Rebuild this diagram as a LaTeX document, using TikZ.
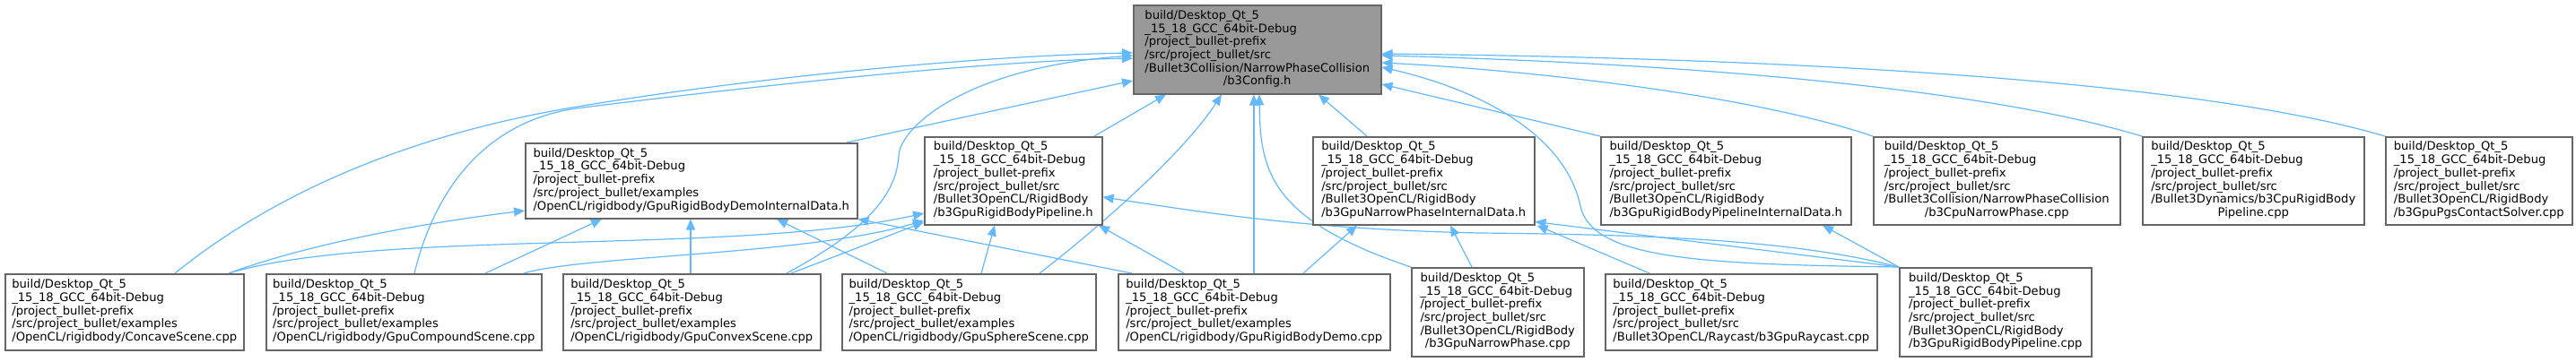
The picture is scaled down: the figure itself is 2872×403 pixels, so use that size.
\documentclass[tikz,border=0pt]{standalone}
\usepackage{fontspec}
\setmainfont{DejaVu Sans}
\usetikzlibrary{arrows.meta,calc,backgrounds}
\definecolor{edgeblue}{HTML}{63B8FF}
\definecolor{nodeborder}{HTML}{666666}
\definecolor{rootfill}{HTML}{999999}
\newcommand{\dlab}[2]{\begin{tabular}{@{}l@{}}#1\\\multicolumn{1}{@{}c@{}}{#2}\end{tabular}}
\newcommand{\pfx}{build/Desktop\_Qt\_5\\\_15\_18\_GCC\_64bit-Debug\\/project\_bullet-prefix}
\begin{document}
\begin{tikzpicture}[x=0.5pt,y=-0.5pt,
  box/.style={draw=nodeborder,line width=0.75pt,fill=white,anchor=north west,inner sep=0pt,
    font=\fontsize{6.55pt}{7.35pt}\selectfont},
  e/.style={draw=edgeblue,line width=0.6pt,-{Triangle[length=6pt,width=5pt]}}]
\useasboundingbox (0,0) rectangle (2872,403);
% rank 0
\node[box,fill=rootfill,minimum width=138pt,minimum height=49.5pt] (root) at (1263,5)
  {\dlab{\pfx\\/src/project\_bullet/src\\/Bullet3Collision/NarrowPhaseCollision}{/b3Config.h}};
% rank 1
\node[box,minimum width=185pt,minimum height=42pt] (demoint) at (585,159)
  {\dlab{\pfx\\/src/project\_bullet/examples}{/OpenCL/rigidbody/GpuRigidBodyDemoInternalData.h}};
\node[box,minimum width=99pt,minimum height=49pt] (pipeh) at (1030,152)
  {\dlab{\pfx\\/src/project\_bullet/src\\/Bullet3OpenCL/RigidBody}{/b3GpuRigidBodyPipeline.h}};
\node[box,minimum width=123.5pt,minimum height=49pt] (npint) at (1463,152)
  {\dlab{\pfx\\/src/project\_bullet/src\\/Bullet3OpenCL/RigidBody}{/b3GpuNarrowPhaseInternalData.h}};
\node[box,minimum width=139.5pt,minimum height=49pt] (pipeint) at (1784,152)
  {\dlab{\pfx\\/src/project\_bullet/src\\/Bullet3OpenCL/RigidBody}{/b3GpuRigidBodyPipelineInternalData.h}};
\node[box,minimum width=137.5pt,minimum height=49pt] (cpunp) at (2088,152)
  {\dlab{\pfx\\/src/project\_bullet/src\\/Bullet3Collision/NarrowPhaseCollision}{/b3CpuNarrowPhase.cpp}};
\node[box,minimum width=123.5pt,minimum height=49pt] (cpurbp) at (2388,152)
  {\dlab{\pfx\\/src/project\_bullet/src\\/Bullet3Dynamics/b3CpuRigidBody}{Pipeline.cpp}};
\node[box,minimum width=104pt,minimum height=49pt] (pgs) at (2659,152)
  {\dlab{\pfx\\/src/project\_bullet/src\\/Bullet3OpenCL/RigidBody}{/b3GpuPgsContactSolver.cpp}};
% rank 2
\node[box,minimum width=133pt,minimum height=42.5pt] (concave) at (5,305)
  {\dlab{\pfx\\/src/project\_bullet/examples}{/OpenCL/rigidbody/ConcaveScene.cpp}};
\node[box,minimum width=153.5pt,minimum height=42.5pt] (compound) at (296,305)
  {\dlab{\pfx\\/src/project\_bullet/examples}{/OpenCL/rigidbody/GpuCompoundScene.cpp}};
\node[box,minimum width=143.5pt,minimum height=42.5pt] (convex) at (627,305)
  {\dlab{\pfx\\/src/project\_bullet/examples}{/OpenCL/rigidbody/GpuConvexScene.cpp}};
\node[box,minimum width=141.5pt,minimum height=42.5pt] (sphere) at (938,305)
  {\dlab{\pfx\\/src/project\_bullet/examples}{/OpenCL/rigidbody/GpuSphereScene.cpp}};
\node[box,minimum width=151.5pt,minimum height=42.5pt] (demo) at (1246,305)
  {\dlab{\pfx\\/src/project\_bullet/examples}{/OpenCL/rigidbody/GpuRigidBodyDemo.cpp}};
\node[box,minimum width=96pt,minimum height=49.5pt] (gpunp) at (1573,298)
  {\dlab{\pfx\\/src/project\_bullet/src\\/Bullet3OpenCL/RigidBody}{/b3GpuNarrowPhase.cpp}};
\node[box,minimum width=151.5pt,minimum height=42.5pt] (raycast) at (1789,305)
  {\dlab{\pfx\\/src/project\_bullet/src}{/Bullet3OpenCL/Raycast/b3GpuRaycast.cpp}};
\node[box,minimum width=107pt,minimum height=49.5pt] (gpurbp) at (2117,298)
  {\dlab{\pfx\\/src/project\_bullet/src\\/Bullet3OpenCL/RigidBody}{/b3GpuRigidBodyPipeline.cpp}};
\begin{pgfonlayer}{background}
% edges to root
\draw[e] ($(concave.north west)+(190,0)$) .. controls (300,220) and (450,150) .. (650,118) .. controls (850,85) and (1100,62) .. ($(root.north west)+(0,54)$);
\draw[e] ($(compound.north west)+(166,0)$) .. controls (490,190) and (560,130) .. (650,120) .. controls (850,95) and (1100,68) .. ($(root.north west)+(0,60)$);
\draw[e] ($(convex.north west)+(250,0)$) .. controls (960,260) and (1000,220) .. (1002,173) .. controls (1005,140) and (1080,75) .. ($(root.north west)+(0,57)$);
\draw[e] ($(demoint.north west)+(359,0)$) -- ($(root.north west)+(0,85)$);
\draw[e] ($(pipeh.north west)+(190,0)$) -- ($(root.south west)+(37,0)$);
\draw[e] ($(npint.north west)+(61,0)$) -- ($(root.south west)+(207,0)$);
\draw[e] (pipeint.north west) -- ($(root.north east)+(0,89)$);
\draw[e] (cpunp.north west) .. controls (1950,105) and (1700,78) .. ($(root.north east)+(0,65)$);
\draw[e] (cpurbp.north west) .. controls (2200,95) and (1850,70) .. ($(root.north east)+(0,57)$);
\draw[e] (pgs.north west) .. controls (2450,90) and (2000,65) .. ($(root.north east)+(0,55)$);
\draw[e] ($(sphere.north west)+(221,0)$) .. controls (1230,250) and (1320,170) .. ($(root.south west)+(99,0)$);
\draw[e] ($(demo.north west)+(152,0)$) -- ($(root.south west)+(135,0)$);
\draw[e] (gpunp.north west) .. controls (1415,245) and (1405,190) .. ($(root.south west)+(141,0)$);
\draw[e] (gpurbp.north west) .. controls (1900,295) and (1775,290) .. (1762,230) .. controls (1745,150) and (1650,100) .. ($(root.north east)+(0,70)$);
% rank 2 to rank 1
\draw[e] ($(concave.north west)+(250,0)$) .. controls (350,270) and (480,248) .. ($(demoint.north west)+(0,76)$);
\draw[e] ($(concave.north west)+(250,0)$) .. controls (420,255) and (820,285) .. ($(pipeh.north west)+(0,86)$);
\draw[e] ($(compound.north west)+(288,0)$) .. controls (650,285) and (900,285) .. ($(pipeh.north west)+(0,94)$);
\draw[e] ($(compound.north west)+(245,0)$) -- ($(demoint.south west)+(86,0)$);
\draw[e] ($(convex.north west)+(143,0)$) -- ($(demoint.south west)+(185,0)$);
\draw[e] ($(convex.north west)+(255,0)$) -- ($(pipeh.north west)+(0,96)$);
\draw[e] ($(sphere.north west)+(51,0)$) -- ($(demoint.south west)+(281,0)$);
\draw[e] ($(sphere.north west)+(156,0)$) -- ($(pipeh.south west)+(79,0)$);
\draw[e] ($(demo.north west)+(16,0)$) -- (demoint.south east);
\draw[e] ($(demo.north west)+(74,0)$) -- ($(pipeh.south west)+(195,0)$);
\draw[e] ($(demo.north west)+(207,0)$) -- ($(npint.south west)+(50,0)$);
\draw[e] ($(gpunp.north west)+(68,0)$) -- ($(npint.south west)+(154,0)$);
\draw[e] ($(raycast.north west)+(50,0)$) -- ($(npint.south east)+(2,0)$);
\draw[e] (gpurbp.north west) -- ($(npint.south east)+(0,-4)$);
\draw[e] (gpurbp.north west) .. controls (2000,268) and (1850,262) .. (1650,260) .. controls (1450,256) and (1330,235) .. ($(pipeh.north east)+(0,68)$);
\draw[e] (gpurbp.north west) -- ($(pipeint.south west)+(248,0)$);
\end{pgfonlayer}
\end{tikzpicture}
\end{document}
